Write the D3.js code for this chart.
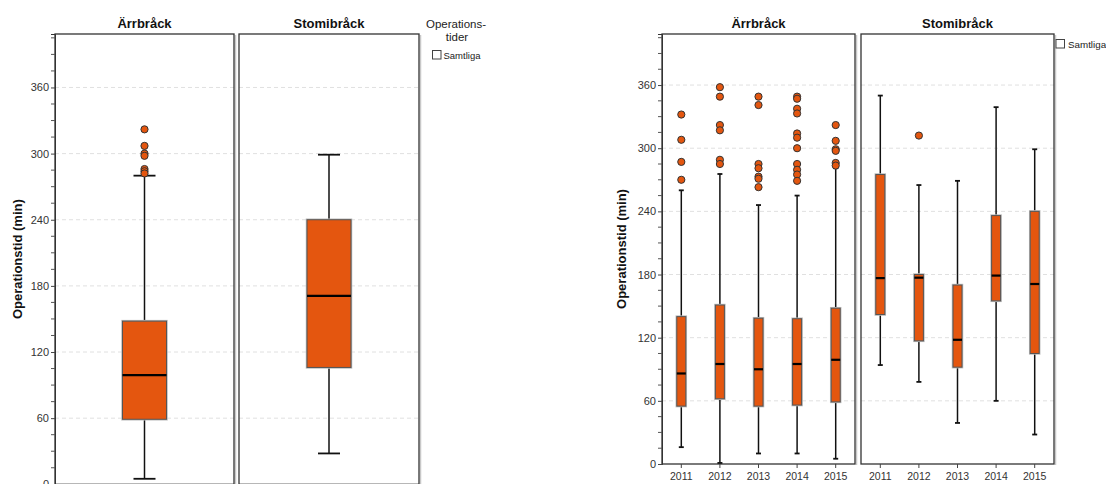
<!DOCTYPE html>
<html><head><meta charset="utf-8">
<script src="https://cdn.jsdelivr.net/npm/d3@7"></script>
<style>
html,body{margin:0;padding:0;background:#fff;}
svg{display:block;font-family:"Liberation Sans",Arial,sans-serif;}
</style></head>
<body>
<svg id="c" width="1106" height="484"></svg>
<script>
// ---------- DATA ----------
const categories = ["Ärrbråck", "Stomibråck"];
const years = ["2011", "2012", "2013", "2014", "2015"];
const yTicks = [0, 60, 120, 180, 240, 300, 360];
const legendLabel = "Samtliga";
const yTitle = "Operationstid (min)";

// left chart: all years combined
const allMin = [5, 28];
const allQ1 = [59, 106];
const allMedian = [99, 171];
const allQ3 = [148, 240];
const allMax = [280, 299];
const allOutliers = [[322, 307, 300, 298, 286, 284, 282], []];

// right chart: Ärrbråck per year
const arrMin = [16, 1, 10, 10, 5];
const arrQ1 = [55, 62, 55, 56, 59];
const arrMedian = [86, 95, 90, 95, 99];
const arrQ3 = [140, 151, 138.5, 138, 148];
const arrMax = [260, 275.5, 246, 255, 281];
const arrOutliers = [
  [332, 308, 287, 270],
  [358, 349, 322, 317, 289, 285],
  [349, 341, 285, 281, 273, 271, 263],
  [349, 347, 337.5, 333, 314, 310, 300, 285, 279.5, 275, 269],
  [322, 307, 299, 297.5, 286, 283.5]
];

// right chart: Stomibråck per year
const stoMin = [94, 78, 39, 60, 28];
const stoQ1 = [142, 117, 92, 155, 105];
const stoMedian = [176.6, 177, 118, 179, 171];
const stoQ3 = [275, 180, 170, 236, 240];
const stoMax = [350, 265, 269, 339, 299];
const stoOutliers = [[], [312], [], [], []];

// ---------- DRAW ----------
const svg = d3.select("#c");
const FILL = "#e4560f";
const yMax = 408.5;

function drawChart(cfg) {
  const y = d3.scaleLinear().domain([0, yMax]).range([cfg.bottom, cfg.top]);
  const g = svg.append("g");

  cfg.panels.forEach((p, pi) => {
    g.append("g").selectAll("line").data(yTicks.filter(t => t > 0)).join("line")
      .attr("x1", p.x0).attr("x2", p.x1)
      .attr("y1", d => y(d)).attr("y2", d => y(d))
      .attr("stroke", "#e0e0e0").attr("stroke-dasharray", "4,3").attr("stroke-width", 1);
    g.append("line").attr("x1", p.x1 + 1.5).attr("x2", p.x1 + 1.5)
      .attr("y1", cfg.top + 1).attr("y2", cfg.bottom + 1)
      .attr("stroke", "#c8c8c8").attr("stroke-width", 1.5);
    g.append("rect").attr("x", p.x0).attr("y", cfg.top)
      .attr("width", p.x1 - p.x0).attr("height", cfg.bottom - cfg.top)
      .attr("fill", "none").attr("stroke", "#333").attr("stroke-width", 1.3);
    g.append("text").attr("x", (p.x0 + p.x1) / 2).attr("y", 27.5)
      .attr("text-anchor", "middle").attr("font-size", 13).attr("font-weight", "bold")
      .attr("fill", "#111").text(categories[pi]);
  });

  const ax = d3.axisLeft(y).tickValues(yTicks).tickSize(4).tickPadding(2).tickFormat(d3.format("d"));
  const ag = g.append("g").attr("transform", `translate(${cfg.panels[0].x0},0)`).call(ax);
  ag.select(".domain").attr("stroke", "#333");
  ag.selectAll(".tick line").attr("stroke", "#444");
  ag.selectAll(".tick text").attr("font-size", 11).attr("fill", "#333")
    .attr("font-family", "'Liberation Sans',Arial,sans-serif");
  const minor = d3.range(0, yMax, 15).filter(v => v % 60 !== 0);
  g.append("g").selectAll("line").data(minor).join("line")
    .attr("x1", cfg.panels[0].x0 - 4).attr("x2", cfg.panels[0].x0)
    .attr("y1", d => y(d)).attr("y2", d => y(d))
    .attr("stroke", "#555").attr("stroke-width", 1);

  g.append("text").attr("transform", `translate(${cfg.yTitleX},${(cfg.top + cfg.bottom) / 2}) rotate(-90)`)
    .attr("text-anchor", "middle").attr("font-size", 13).attr("font-weight", "bold")
    .attr("fill", "#111").text(yTitle);

  cfg.series.forEach((s, pi) => {
    const p = cfg.panels[pi];
    const x = d3.scaleBand().domain(s.keys).range([p.x0, p.x1]).padding(0);
    if (cfg.xAxis) {
      const xa = d3.axisBottom(x).tickSize(4).tickPadding(5);
      const xg = g.append("g").attr("transform", `translate(0,${cfg.bottom})`).call(xa);
      xg.select(".domain").remove();
      xg.selectAll(".tick line").attr("stroke", "#444");
      xg.selectAll(".tick text").attr("font-size", 10.5).attr("fill", "#333")
        .attr("font-family", "'Liberation Sans',Arial,sans-serif");
    }
    s.keys.forEach((k, i) => {
      const cx = x(k) + x.bandwidth() / 2;
      const bw = cfg.boxW, cw = cfg.capW;
      g.append("line").attr("x1", cx).attr("x2", cx).attr("y1", y(s.q3[i])).attr("y2", y(s.max[i]))
        .attr("stroke", "#111").attr("stroke-width", 1.5);
      g.append("line").attr("x1", cx).attr("x2", cx).attr("y1", y(s.q1[i])).attr("y2", y(s.min[i]))
        .attr("stroke", "#111").attr("stroke-width", 1.5);
      [s.max[i], s.min[i]].forEach(v => {
        g.append("line").attr("x1", cx - cw / 2).attr("x2", cx + cw / 2).attr("y1", y(v)).attr("y2", y(v))
          .attr("stroke", "#111").attr("stroke-width", 1.8);
      });
      g.append("rect").attr("x", cx - bw / 2 - 0.5).attr("y", y(s.q3[i]) - 0.5)
        .attr("width", bw + 1).attr("height", y(s.q1[i]) - y(s.q3[i]) + 1)
        .attr("fill", "none").attr("stroke", "#bbb").attr("stroke-width", 1.5);
      g.append("rect").attr("x", cx - bw / 2).attr("y", y(s.q3[i]))
        .attr("width", bw).attr("height", y(s.q1[i]) - y(s.q3[i]))
        .attr("fill", FILL).attr("stroke", "#555").attr("stroke-width", 1);
      g.append("line").attr("x1", cx - bw / 2).attr("x2", cx + bw / 2)
        .attr("y1", y(s.med[i])).attr("y2", y(s.med[i]))
        .attr("stroke", "#000").attr("stroke-width", 2.2);
      g.append("g").selectAll("circle").data(s.out[i]).join("circle")
        .attr("cx", cx).attr("cy", d => y(d)).attr("r", 3.6)
        .attr("fill", FILL).attr("stroke", "#333").attr("stroke-width", 1);
    });
  });
}

drawChart({
  top: 34, bottom: 484.3, yTitleX: 22,
  panels: [{x0: 55, x1: 234}, {x0: 239, x1: 419}],
  boxW: 44, capW: 22, xAxis: false,
  series: [
    {keys: ["Samtliga"], min: [allMin[0]], q1: [allQ1[0]], med: [allMedian[0]], q3: [allQ3[0]], max: [allMax[0]], out: [allOutliers[0]]},
    {keys: ["Samtliga"], min: [allMin[1]], q1: [allQ1[1]], med: [allMedian[1]], q3: [allQ3[1]], max: [allMax[1]], out: [allOutliers[1]]}
  ]
});

drawChart({
  top: 34, bottom: 464, yTitleX: 626,
  panels: [{x0: 662, x1: 855}, {x0: 861, x1: 1054}],
  boxW: 9, capW: 5, xAxis: true,
  series: [
    {keys: years, min: arrMin, q1: arrQ1, med: arrMedian, q3: arrQ3, max: arrMax, out: arrOutliers},
    {keys: years, min: stoMin, q1: stoQ1, med: stoMedian, q3: stoQ3, max: stoMax, out: stoOutliers}
  ]
});

svg.append("text").attr("x", 456).attr("y", 28).attr("text-anchor", "middle")
  .attr("font-size", 11.5).attr("fill", "#222").text("Operations-");
svg.append("text").attr("x", 457).attr("y", 40.5).attr("text-anchor", "middle")
  .attr("font-size", 11.5).attr("fill", "#222").text("tider");
svg.append("rect").attr("x", 432.5).attr("y", 50.5).attr("width", 8.5).attr("height", 8.5)
  .attr("fill", "#fff").attr("stroke", "#444").attr("stroke-width", 1);
svg.append("text").attr("x", 443.5).attr("y", 59).attr("font-size", 9.5).attr("fill", "#222").text(legendLabel);

svg.append("rect").attr("x", 1056).attr("y", 39.5).attr("width", 8.5).attr("height", 8.5)
  .attr("fill", "#fff").attr("stroke", "#444").attr("stroke-width", 1);
svg.append("text").attr("x", 1068).attr("y", 48).attr("font-size", 9.8).attr("fill", "#222").text(legendLabel);
</script>
</body></html>
